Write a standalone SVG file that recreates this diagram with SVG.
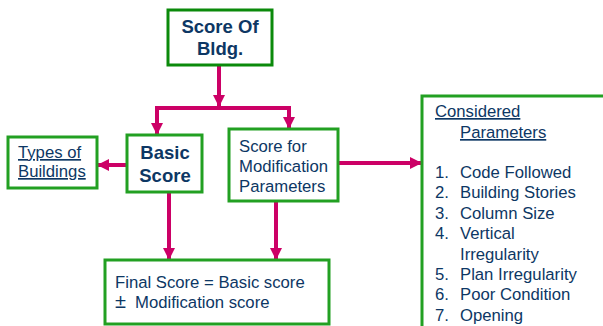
<svg xmlns="http://www.w3.org/2000/svg" width="603" height="326" viewBox="0 0 603 326">
  <style>
    .box { fill: #ffffff; stroke: #22a022; stroke-width: 3; }
    .box-dark { stroke: #0b8a0b; }
    .txt { font-family: "Liberation Sans", Arial, sans-serif; font-size: 16.7px; fill: #0d3764; }
    .bold { font-weight: bold; font-size: 18.5px; }
    .ul { text-decoration: underline; }
    .link { fill: none; stroke: #cc0066; stroke-width: 4; }
  </style>
  <defs>
    <marker id="head" viewBox="0 0 10 10" refX="10" refY="5" markerWidth="12" markerHeight="12" markerUnits="userSpaceOnUse" orient="auto">
      <path d="M0,0 L10,5 L0,10 z" fill="#cc0066"/>
    </marker>
  </defs>
  <rect width="603" height="326" fill="#ffffff"/>

  <g id="connectors">
    <line class="link" x1="219" y1="65" x2="219" y2="107" marker-end="url(#head)"/>
    <line class="link" x1="155" y1="108" x2="291" y2="108"/>
    <line class="link" x1="157" y1="108" x2="157" y2="135" marker-end="url(#head)"/>
    <line class="link" x1="289" y1="108" x2="289" y2="129" marker-end="url(#head)"/>
    <line class="link" x1="127" y1="165" x2="97" y2="165" marker-end="url(#head)"/>
    <line class="link" x1="338" y1="163" x2="422" y2="163" marker-end="url(#head)"/>
    <line class="link" x1="169" y1="192" x2="169" y2="260" marker-end="url(#head)"/>
    <line class="link" x1="276" y1="201" x2="276" y2="260" marker-end="url(#head)"/>
  </g>

  <g id="score-of-bldg">
    <rect class="box box-dark" x="168" y="10" width="104" height="55"/>
    <text class="txt bold" x="220" y="33" text-anchor="middle">Score Of</text>
    <text class="txt bold" x="220" y="55" text-anchor="middle">Bldg.</text>
  </g>

  <g id="basic-score">
    <rect class="box" x="127" y="135" width="75" height="57"/>
    <text class="txt bold" x="165" y="159" text-anchor="middle">Basic</text>
    <text class="txt bold" x="165" y="182" text-anchor="middle">Score</text>
  </g>

  <g id="types-of-buildings">
    <rect class="box" x="8" y="137" width="89" height="51"/>
    <text class="txt ul" x="18" y="158">Types of</text>
    <text class="txt ul" x="18" y="177">Buildings</text>
  </g>

  <g id="modification-score">
    <rect class="box" x="229" y="129" width="109" height="72"/>
    <text class="txt" x="239" y="152">Score for</text>
    <text class="txt" x="239" y="172">Modification</text>
    <text class="txt" x="239" y="192">Parameters</text>
  </g>

  <g id="final-score">
    <rect class="box" x="105" y="260" width="224" height="64"/>
    <text class="txt" x="115" y="288">Final Score = Basic score</text>
    <text class="txt" x="115" y="308"><tspan font-size="20px">±</tspan><tspan x="135">Modification score</tspan></text>
  </g>

  <g id="considered-parameters">
    <rect class="box" x="422" y="96" width="200" height="250"/>
    <text class="txt ul" x="435" y="117">Considered</text>
    <text class="txt ul" x="460" y="138">Parameters</text>
    <g class="txt">
      <text x="435" y="178">1.</text><text x="460" y="178">Code Followed</text>
      <text x="435" y="198">2.</text><text x="460" y="198">Building Stories</text>
      <text x="435" y="218.5">3.</text><text x="460" y="218.5">Column Size</text>
      <text x="435" y="239">4.</text><text x="460" y="239">Vertical</text>
      <text x="460" y="259.5">Irregularity</text>
      <text x="435" y="280">5.</text><text x="460" y="280">Plan Irregularity</text>
      <text x="435" y="300">6.</text><text x="460" y="300">Poor Condition</text>
      <text x="435" y="320.5">7.</text><text x="460" y="320.5">Opening</text>
    </g>
  </g>
</svg>
